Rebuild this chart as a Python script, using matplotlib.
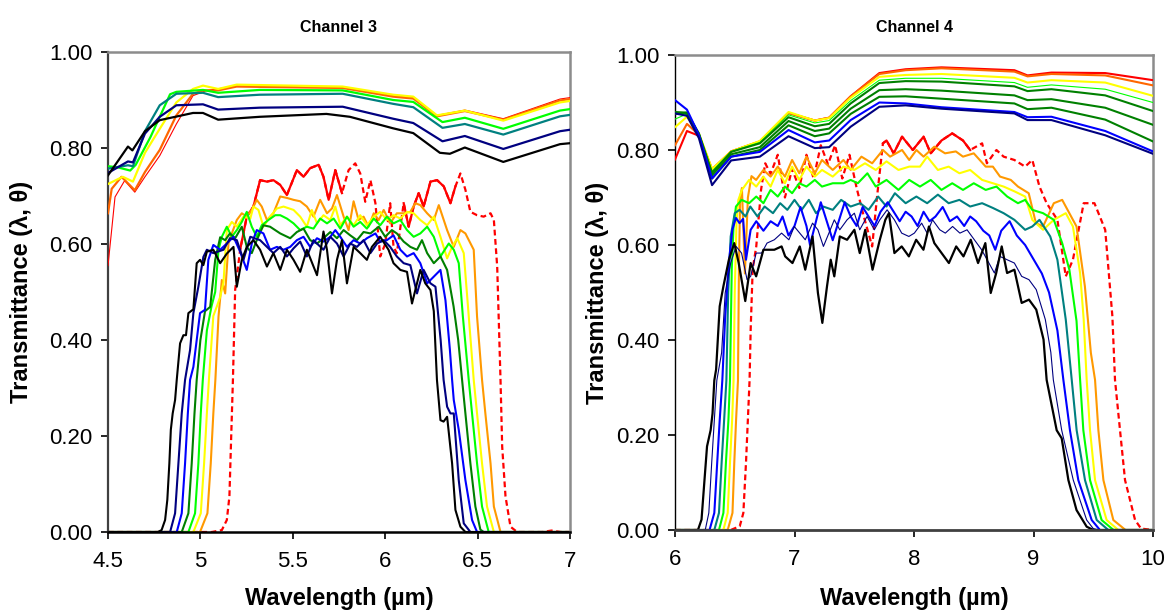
import numpy as np
import matplotlib
matplotlib.use("Agg")
import matplotlib.pyplot as plt

plt.rcParams["font.family"] = ["Liberation Sans", "DejaVu Sans"]

# ------------------------------------------------------------
# Channel 3 - upper curves (window transmittance), (um, T)
# ------------------------------------------------------------
ch3_top_red = [(4.5, 0.555), (4.52, 0.63), (4.538, 0.698), (4.59, 0.732), (4.645, 0.708),
               (4.7, 0.74), (4.78, 0.784), (4.87, 0.85), (4.96, 0.909), (5.034, 0.92),
               (5.196, 0.929), (5.77, 0.927), (6.043, 0.909), (6.152, 0.905), (6.28, 0.868),
               (6.431, 0.879), (6.639, 0.861), (6.946, 0.902), (7.0, 0.905)]
ch3_top_orange = [(4.5, 0.664), (4.52, 0.715), (4.573, 0.74), (4.645, 0.712), (4.7, 0.75),
                  (4.78, 0.796), (4.87, 0.868), (4.96, 0.913), (5.014, 0.92), (5.096, 0.92),
                  (5.196, 0.928), (5.77, 0.925), (6.043, 0.907), (6.152, 0.903), (6.28, 0.866),
                  (6.431, 0.877), (6.639, 0.859), (6.946, 0.899), (7.0, 0.902)]
ch3_top_yellow = [(4.5, 0.725), (4.58, 0.74), (4.635, 0.73), (4.7, 0.79), (4.78, 0.84),
                  (4.87, 0.895), (4.96, 0.923), (5.014, 0.93), (5.096, 0.923), (5.196, 0.932),
                  (5.77, 0.928), (6.043, 0.911), (6.152, 0.907), (6.28, 0.868), (6.431, 0.878),
                  (6.639, 0.857), (6.946, 0.895), (7.0, 0.898)]
ch3_top_lime = [(4.5, 0.762), (4.55, 0.76), (4.62, 0.753), (4.65, 0.765), (4.73, 0.823),
                (4.836, 0.912), (4.87, 0.917), (5.014, 0.921), (5.096, 0.915), (5.321, 0.921),
                (5.77, 0.92), (6.043, 0.9), (6.152, 0.896), (6.31, 0.854), (6.431, 0.863),
                (6.639, 0.84), (6.946, 0.878), (7.0, 0.881)]
ch3_top_teal = [(4.5, 0.757), (4.608, 0.764), (4.635, 0.762), (4.7, 0.835), (4.78, 0.889),
                (4.87, 0.913), (5.014, 0.915), (5.096, 0.906), (5.321, 0.911), (5.77, 0.913),
                (6.043, 0.892), (6.152, 0.885), (6.31, 0.842), (6.431, 0.85), (6.639, 0.828),
                (6.946, 0.866), (7.0, 0.869)]
ch3_top_navy = [(4.5, 0.748), (4.608, 0.772), (4.635, 0.77), (4.7, 0.83), (4.78, 0.865),
                (4.87, 0.889), (5.014, 0.891), (5.096, 0.88), (5.321, 0.884), (5.77, 0.886),
                (6.043, 0.861), (6.152, 0.852), (6.31, 0.814), (6.431, 0.825), (6.639, 0.798),
                (6.946, 0.835), (7.0, 0.838)]
ch3_top_black = [(4.5, 0.743), (4.608, 0.803), (4.632, 0.795), (4.7, 0.835), (4.78, 0.858),
                 (4.96, 0.873), (5.014, 0.873), (5.096, 0.859), (5.321, 0.865), (5.682, 0.871),
                 (5.809, 0.865), (6.043, 0.841), (6.152, 0.831), (6.296, 0.79), (6.35, 0.788),
                 (6.431, 0.801), (6.639, 0.771), (6.946, 0.808), (7.0, 0.81)]

# ------------------------------------------------------------
# Channel 3 - filter curves at increasing angle
# ------------------------------------------------------------
ch3_red = [(4.5, 0), (5.062, 0), (5.116, 0.004), (5.143, 0.025), (5.157, 0.074), (5.165, 0.178),
           (5.176, 0.317), (5.188, 0.504), (5.215, 0.588), (5.251, 0.657), (5.287, 0.678),
           (5.323, 0.733), (5.36, 0.73), (5.395, 0.733), (5.432, 0.723), (5.468, 0.702),
           (5.522, 0.754), (5.558, 0.74), (5.594, 0.758), (5.64, 0.765), (5.666, 0.74),
           (5.694, 0.692), (5.73, 0.754), (5.766, 0.706), (5.802, 0.754), (5.838, 0.768),
           (5.865, 0.747), (5.892, 0.688), (5.92, 0.733), (5.947, 0.685), (5.973, 0.574),
           (6.0, 0.60), (6.027, 0.685), (6.045, 0.594), (6.063, 0.581), (6.1, 0.685),
           (6.127, 0.636), (6.154, 0.678), (6.181, 0.706), (6.208, 0.678), (6.245, 0.73),
           (6.281, 0.733), (6.317, 0.72), (6.353, 0.685), (6.38, 0.72), (6.407, 0.747),
           (6.434, 0.713), (6.461, 0.667), (6.497, 0.66), (6.533, 0.657), (6.57, 0.664),
           (6.588, 0.65), (6.606, 0.553), (6.624, 0.317), (6.633, 0.178), (6.651, 0.074),
           (6.678, 0.011), (6.714, 0), (6.85, 0), (6.9, 0.003), (6.95, 0), (7.0, 0)]
ch3_orange = [(4.5, 0), (4.998, 0), (5.038, 0.039), (5.056, 0.143), (5.07, 0.247), (5.081, 0.317),
              (5.098, 0.449), (5.116, 0.525), (5.134, 0.497), (5.152, 0.601), (5.17, 0.622),
              (5.197, 0.65), (5.224, 0.664), (5.251, 0.657), (5.278, 0.671), (5.305, 0.692),
              (5.332, 0.678), (5.36, 0.65), (5.395, 0.664), (5.432, 0.699), (5.468, 0.696),
              (5.504, 0.692), (5.54, 0.689), (5.576, 0.678), (5.612, 0.657), (5.648, 0.692),
              (5.685, 0.664), (5.712, 0.674), (5.739, 0.702), (5.775, 0.657), (5.802, 0.629),
              (5.829, 0.689), (5.856, 0.65), (5.883, 0.657), (5.91, 0.636), (5.938, 0.664),
              (5.965, 0.65), (5.992, 0.671), (6.027, 0.643), (6.063, 0.664), (6.1, 0.664),
              (6.136, 0.667), (6.163, 0.685), (6.19, 0.681), (6.227, 0.664), (6.263, 0.65),
              (6.29, 0.681), (6.335, 0.629), (6.371, 0.594), (6.407, 0.629), (6.434, 0.622),
              (6.479, 0.588), (6.497, 0.449), (6.524, 0.317), (6.542, 0.247), (6.57, 0.143),
              (6.588, 0.053), (6.624, 0), (7.0, 0)]
ch3_yellow = [(4.5, 0), (4.962, 0), (5.002, 0.039), (5.02, 0.143), (5.035, 0.247), (5.046, 0.317),
              (5.07, 0.45), (5.089, 0.47), (5.107, 0.49), (5.125, 0.52), (5.143, 0.629),
              (5.17, 0.646), (5.197, 0.636), (5.233, 0.657), (5.27, 0.653), (5.287, 0.678),
              (5.314, 0.671), (5.341, 0.636), (5.377, 0.657), (5.414, 0.674), (5.45, 0.678),
              (5.504, 0.671), (5.54, 0.657), (5.576, 0.636), (5.603, 0.671), (5.631, 0.643),
              (5.666, 0.66), (5.703, 0.65), (5.73, 0.678), (5.757, 0.639), (5.793, 0.657),
              (5.829, 0.639), (5.865, 0.66), (5.901, 0.639), (5.938, 0.657), (5.973, 0.667),
              (6.009, 0.65), (6.045, 0.66), (6.082, 0.653), (6.118, 0.667), (6.154, 0.664),
              (6.19, 0.65), (6.227, 0.639), (6.263, 0.657), (6.299, 0.615), (6.335, 0.57),
              (6.362, 0.594), (6.39, 0.612), (6.425, 0.581), (6.452, 0.45), (6.479, 0.317),
              (6.497, 0.247), (6.524, 0.143), (6.551, 0.053), (6.588, 0), (7.0, 0)]
ch3_lime = [(4.5, 0), (4.935, 0), (4.971, 0.039), (4.989, 0.143), (5.002, 0.247), (5.013, 0.317),
            (5.035, 0.42), (5.06, 0.47), (5.08, 0.50), (5.098, 0.588), (5.116, 0.615),
            (5.143, 0.636), (5.17, 0.615), (5.197, 0.629), (5.224, 0.646), (5.251, 0.667),
            (5.278, 0.636), (5.305, 0.615), (5.332, 0.639), (5.368, 0.65), (5.405, 0.66),
            (5.432, 0.66), (5.468, 0.653), (5.504, 0.643), (5.54, 0.629), (5.576, 0.636),
            (5.612, 0.632), (5.648, 0.653), (5.685, 0.643), (5.721, 0.653), (5.757, 0.632),
            (5.793, 0.657), (5.829, 0.636), (5.865, 0.646), (5.901, 0.632), (5.938, 0.653),
            (5.973, 0.639), (6.009, 0.657), (6.045, 0.643), (6.082, 0.65), (6.118, 0.629),
            (6.154, 0.615), (6.19, 0.622), (6.227, 0.636), (6.263, 0.615), (6.299, 0.574),
            (6.344, 0.601), (6.371, 0.588), (6.398, 0.56), (6.42, 0.45), (6.452, 0.317),
            (6.47, 0.247), (6.497, 0.143), (6.524, 0.053), (6.56, 0), (7.0, 0)]
ch3_green = [(4.5, 0), (4.899, 0), (4.935, 0.039), (4.953, 0.143), (4.968, 0.247), (4.98, 0.317),
             (5.0, 0.40), (5.025, 0.46), (5.053, 0.469), (5.08, 0.567), (5.107, 0.614),
             (5.134, 0.608), (5.16, 0.622), (5.188, 0.612), (5.224, 0.636), (5.251, 0.594),
             (5.278, 0.581), (5.305, 0.608), (5.341, 0.639), (5.377, 0.636), (5.432, 0.622),
             (5.486, 0.612), (5.522, 0.625), (5.558, 0.632), (5.594, 0.608), (5.631, 0.601),
             (5.666, 0.612), (5.703, 0.625), (5.739, 0.612), (5.775, 0.629), (5.811, 0.618),
             (5.847, 0.608), (5.883, 0.625), (5.92, 0.622), (5.965, 0.636), (6.0, 0.615),
             (6.036, 0.629), (6.063, 0.622), (6.1, 0.605), (6.136, 0.594), (6.172, 0.588),
             (6.199, 0.608), (6.227, 0.581), (6.263, 0.56), (6.299, 0.574), (6.335, 0.546),
             (6.37, 0.47), (6.395, 0.40), (6.416, 0.317), (6.434, 0.247), (6.461, 0.143),
             (6.488, 0.053), (6.515, 0.005), (6.533, 0), (7.0, 0)]
ch3_blue = [(4.5, 0), (4.872, 0), (4.899, 0.039), (4.917, 0.143), (4.932, 0.247), (4.944, 0.317),
            (4.962, 0.344), (4.998, 0.456), (5.025, 0.463), (5.043, 0.567), (5.07, 0.598),
            (5.107, 0.588), (5.143, 0.601), (5.179, 0.615), (5.215, 0.584), (5.251, 0.546),
            (5.278, 0.601), (5.305, 0.629), (5.341, 0.622), (5.377, 0.588), (5.414, 0.594),
            (5.45, 0.588), (5.486, 0.594), (5.522, 0.608), (5.558, 0.615), (5.594, 0.594),
            (5.631, 0.612), (5.666, 0.605), (5.703, 0.615), (5.73, 0.629), (5.757, 0.615),
            (5.793, 0.594), (5.829, 0.608), (5.865, 0.601), (5.901, 0.612), (5.947, 0.622),
            (5.973, 0.605), (6.009, 0.608), (6.045, 0.618), (6.082, 0.588), (6.118, 0.574),
            (6.154, 0.581), (6.19, 0.56), (6.227, 0.518), (6.263, 0.532), (6.299, 0.546),
            (6.326, 0.483), (6.35, 0.38), (6.362, 0.317), (6.371, 0.275), (6.398, 0.213),
            (6.434, 0.108), (6.47, 0.025), (6.497, 0), (7.0, 0)]
ch3_navy = [(4.5, 0), (4.836, 0), (4.863, 0.039), (4.881, 0.143), (4.899, 0.247), (4.917, 0.317),
            (4.944, 0.379), (4.962, 0.456), (4.989, 0.511), (5.016, 0.573), (5.035, 0.588),
            (5.07, 0.581), (5.125, 0.588), (5.16, 0.612), (5.197, 0.608), (5.233, 0.567),
            (5.27, 0.615), (5.323, 0.608), (5.36, 0.594), (5.395, 0.581), (5.432, 0.594),
            (5.468, 0.574), (5.504, 0.591), (5.54, 0.605), (5.576, 0.574), (5.612, 0.608),
            (5.666, 0.588), (5.703, 0.615), (5.739, 0.601), (5.775, 0.574), (5.811, 0.601),
            (5.847, 0.594), (5.883, 0.608), (5.92, 0.581), (5.956, 0.601), (5.992, 0.608),
            (6.027, 0.594), (6.063, 0.574), (6.1, 0.56), (6.136, 0.556), (6.172, 0.497),
            (6.208, 0.546), (6.245, 0.518), (6.272, 0.511), (6.30, 0.40), (6.316, 0.317),
            (6.335, 0.261), (6.353, 0.247), (6.371, 0.247), (6.398, 0.108), (6.425, 0.018),
            (6.461, 0), (7.0, 0)]
ch3_black = [(4.5, 0), (4.77, 0), (4.79, 0.004), (4.809, 0.025), (4.821, 0.067), (4.832, 0.143),
             (4.84, 0.213), (4.85, 0.247), (4.863, 0.275), (4.872, 0.317), (4.89, 0.393),
             (4.908, 0.41), (4.922, 0.41), (4.935, 0.456), (4.962, 0.464), (4.98, 0.56),
             (4.998, 0.567), (5.016, 0.556), (5.035, 0.584), (5.07, 0.588), (5.107, 0.56),
             (5.143, 0.58), (5.179, 0.594), (5.197, 0.511), (5.224, 0.567), (5.251, 0.594),
             (5.287, 0.608), (5.323, 0.588), (5.36, 0.553), (5.395, 0.581), (5.432, 0.546),
             (5.468, 0.588), (5.504, 0.567), (5.54, 0.542), (5.576, 0.588), (5.631, 0.535),
             (5.666, 0.626), (5.685, 0.588), (5.712, 0.497), (5.739, 0.567), (5.766, 0.608),
             (5.793, 0.518), (5.829, 0.594), (5.865, 0.581), (5.901, 0.567), (5.928, 0.594),
             (5.973, 0.615), (6.018, 0.588), (6.045, 0.56), (6.082, 0.546), (6.118, 0.542),
             (6.145, 0.476), (6.172, 0.518), (6.19, 0.546), (6.217, 0.518), (6.245, 0.504),
             (6.263, 0.46), (6.28, 0.317), (6.299, 0.233), (6.316, 0.23), (6.335, 0.24),
             (6.362, 0.143), (6.38, 0.046), (6.407, 0.011), (6.434, 0), (7.0, 0)]

# ------------------------------------------------------------
# Channel 4 - upper curves, common wavelength grid
# ------------------------------------------------------------
ch4_top_x = [6.0, 6.1, 6.2, 6.31, 6.47, 6.71, 6.95, 7.17, 7.29, 7.47, 7.71, 7.93, 8.23,
             8.84, 8.95, 9.15, 9.6, 10.0]
ch4_top_red = [0.78, 0.84, 0.83, 0.758, 0.797, 0.818, 0.878, 0.862, 0.868, 0.913, 0.962,
               0.970, 0.974, 0.968, 0.957, 0.963, 0.962, 0.947]
ch4_top_orange = [0.81, 0.855, 0.832, 0.760, 0.797, 0.818, 0.878, 0.862, 0.868, 0.913, 0.960,
                  0.968, 0.972, 0.965, 0.955, 0.960, 0.957, 0.936]
ch4_top_yellow = [0.848, 0.870, 0.835, 0.760, 0.797, 0.819, 0.880, 0.862, 0.867, 0.910, 0.954,
                  0.958, 0.960, 0.952, 0.942, 0.947, 0.942, 0.914]
ch4_top_lime = [0.865, 0.876, 0.835, 0.755, 0.797, 0.816, 0.874, 0.857, 0.862, 0.904, 0.947,
                0.951, 0.951, 0.942, 0.932, 0.937, 0.928, 0.900]
ch4_top_green1 = [0.876, 0.878, 0.835, 0.752, 0.796, 0.814, 0.869, 0.850, 0.855, 0.898, 0.941,
                  0.945, 0.944, 0.934, 0.924, 0.928, 0.915, 0.882]
ch4_top_green2 = [0.879, 0.879, 0.833, 0.747, 0.791, 0.806, 0.861, 0.840, 0.845, 0.887, 0.926,
                  0.928, 0.925, 0.915, 0.905, 0.907, 0.889, 0.853]
ch4_top_green3 = [0.880, 0.877, 0.830, 0.740, 0.786, 0.800, 0.852, 0.829, 0.835, 0.876, 0.912,
                  0.913, 0.908, 0.898, 0.886, 0.889, 0.864, 0.818]
ch4_top_blue = [0.905, 0.885, 0.832, 0.740, 0.786, 0.796, 0.842, 0.816, 0.820, 0.863, 0.900,
                0.898, 0.890, 0.880, 0.869, 0.870, 0.840, 0.797]
ch4_top_navy = [0.877, 0.872, 0.825, 0.726, 0.778, 0.786, 0.829, 0.804, 0.806, 0.849, 0.891,
                0.894, 0.887, 0.877, 0.863, 0.863, 0.831, 0.792]

# ------------------------------------------------------------
# Channel 4 - filter curves at increasing angle
# ------------------------------------------------------------
ch4_red = [(6.0, 0), (6.466, 0), (6.542, 0.008), (6.572, 0.036), (6.594, 0.141), (6.612, 0.245),
           (6.624, 0.315), (6.633, 0.42), (6.65, 0.549), (6.68, 0.597), (6.72, 0.716),
           (6.755, 0.772), (6.8, 0.75), (6.86, 0.79), (6.92, 0.70), (6.98, 0.76), (7.04, 0.72),
           (7.1, 0.79), (7.16, 0.74), (7.22, 0.81), (7.28, 0.77), (7.34, 0.81), (7.4, 0.74),
           (7.46, 0.79), (7.52, 0.72), (7.58, 0.66), (7.65, 0.597), (7.69, 0.70), (7.74, 0.814),
           (7.77, 0.82), (7.83, 0.793), (7.9, 0.828), (7.99, 0.80), (8.08, 0.828), (8.14, 0.793),
           (8.23, 0.82), (8.32, 0.835), (8.41, 0.82), (8.47, 0.80), (8.57, 0.814), (8.61, 0.772),
           (8.69, 0.80), (8.75, 0.786), (8.84, 0.779), (8.93, 0.765), (8.99, 0.779),
           (9.05, 0.723), (9.11, 0.688), (9.2, 0.653), (9.27, 0.534), (9.33, 0.569),
           (9.42, 0.688), (9.51, 0.688), (9.6, 0.632), (9.66, 0.45), (9.682, 0.316),
           (9.724, 0.21), (9.766, 0.105), (9.85, 0.021), (9.9, 0.003), (10.0, 0)]
ch4_orange = [(6.0, 0), (6.441, 0), (6.481, 0.036), (6.496, 0.141), (6.511, 0.231), (6.527, 0.315),
              (6.535, 0.55), (6.545, 0.70), (6.56, 0.72), (6.585, 0.54), (6.61, 0.70),
              (6.64, 0.745), (6.679, 0.737), (6.74, 0.758), (6.8, 0.744), (6.86, 0.765),
              (6.92, 0.744), (6.98, 0.779), (7.04, 0.751), (7.1, 0.786), (7.17, 0.751),
              (7.23, 0.779), (7.32, 0.758), (7.41, 0.779), (7.47, 0.758), (7.56, 0.786),
              (7.65, 0.772), (7.74, 0.80), (7.8, 0.786), (7.9, 0.80), (7.96, 0.779), (8.02, 0.80),
              (8.08, 0.786), (8.17, 0.807), (8.26, 0.793), (8.35, 0.797), (8.41, 0.786),
              (8.5, 0.793), (8.6, 0.765), (8.66, 0.765), (8.72, 0.744), (8.81, 0.737),
              (8.87, 0.723), (8.96, 0.709), (9.02, 0.646), (9.08, 0.639), (9.17, 0.688),
              (9.24, 0.695), (9.3, 0.667), (9.36, 0.639), (9.43, 0.513), (9.48, 0.373),
              (9.515, 0.316), (9.543, 0.21), (9.585, 0.105), (9.668, 0.021), (9.77, 0), (10.0, 0)]
ch4_yellow = [(6.0, 0), (6.405, 0), (6.441, 0.036), (6.46, 0.141), (6.478, 0.231), (6.49, 0.315),
              (6.5, 0.5), (6.515, 0.65), (6.53, 0.695), (6.56, 0.716), (6.62, 0.737),
              (6.68, 0.723), (6.74, 0.744), (6.8, 0.723), (6.86, 0.758), (6.92, 0.73),
              (6.98, 0.765), (7.04, 0.737), (7.1, 0.765), (7.17, 0.744), (7.23, 0.758),
              (7.32, 0.744), (7.41, 0.765), (7.5, 0.758), (7.59, 0.772), (7.68, 0.758),
              (7.77, 0.776), (7.87, 0.758), (7.96, 0.765), (8.05, 0.765), (8.11, 0.786),
              (8.2, 0.758), (8.29, 0.765), (8.38, 0.751), (8.47, 0.758), (8.57, 0.737),
              (8.66, 0.73), (8.75, 0.723), (8.84, 0.713), (8.93, 0.702), (8.99, 0.653),
              (9.08, 0.632), (9.17, 0.653), (9.27, 0.667), (9.33, 0.639), (9.39, 0.541),
              (9.42, 0.443), (9.445, 0.316), (9.473, 0.21), (9.515, 0.105), (9.612, 0.021),
              (9.71, 0), (10.0, 0)]
ch4_lime = [(6.0, 0), (6.368, 0), (6.405, 0.036), (6.426, 0.141), (6.447, 0.231), (6.46, 0.315),
            (6.475, 0.55), (6.49, 0.64), (6.51, 0.681), (6.557, 0.695), (6.62, 0.688),
            (6.68, 0.702), (6.74, 0.688), (6.8, 0.716), (6.86, 0.702), (6.92, 0.723),
            (6.98, 0.709), (7.04, 0.73), (7.1, 0.723), (7.17, 0.737), (7.23, 0.723), (7.32, 0.73),
            (7.41, 0.73), (7.47, 0.737), (7.53, 0.73), (7.61, 0.751), (7.68, 0.723),
            (7.77, 0.737), (7.87, 0.716), (7.96, 0.737), (8.05, 0.723), (8.14, 0.737),
            (8.23, 0.716), (8.32, 0.73), (8.41, 0.716), (8.5, 0.73), (8.6, 0.716), (8.69, 0.723),
            (8.78, 0.702), (8.87, 0.688), (8.93, 0.695), (8.99, 0.674), (9.08, 0.667),
            (9.17, 0.653), (9.24, 0.604), (9.3, 0.548), (9.36, 0.44), (9.39, 0.316),
            (9.417, 0.21), (9.473, 0.105), (9.57, 0.021), (9.67, 0), (10.0, 0)]
ch4_teal = [(6.0, 0), (6.329, 0), (6.368, 0.036), (6.39, 0.141), (6.411, 0.231), (6.43, 0.315),
            (6.445, 0.50), (6.466, 0.618), (6.5, 0.667), (6.54, 0.674), (6.59, 0.66),
            (6.63, 0.681), (6.69, 0.66), (6.75, 0.681), (6.82, 0.667), (6.88, 0.688),
            (6.94, 0.674), (7.0, 0.695), (7.06, 0.674), (7.12, 0.695), (7.18, 0.667),
            (7.24, 0.681), (7.32, 0.674), (7.39, 0.695), (7.47, 0.681), (7.55, 0.688),
            (7.62, 0.674), (7.7, 0.702), (7.77, 0.681), (7.84, 0.709), (7.93, 0.688),
            (8.02, 0.702), (8.11, 0.688), (8.2, 0.706), (8.29, 0.688), (8.38, 0.695),
            (8.47, 0.681), (8.57, 0.688), (8.66, 0.678), (8.75, 0.667), (8.84, 0.653),
            (8.93, 0.632), (8.99, 0.639), (9.05, 0.653), (9.14, 0.618), (9.2, 0.569),
            (9.27, 0.443), (9.32, 0.316), (9.361, 0.21), (9.431, 0.105), (9.529, 0.021),
            (9.626, 0), (10.0, 0)]
ch4_blue = [(6.0, 0), (6.289, 0), (6.329, 0.036), (6.353, 0.141), (6.374, 0.231), (6.396, 0.315),
            (6.42, 0.45), (6.45, 0.562), (6.48, 0.632), (6.51, 0.657), (6.54, 0.646),
            (6.57, 0.655), (6.594, 0.569), (6.633, 0.632), (6.68, 0.65), (6.74, 0.63),
            (6.8, 0.65), (6.86, 0.64), (6.9, 0.66), (6.95, 0.62), (7.0, 0.64), (7.05, 0.68),
            (7.1, 0.64), (7.13, 0.60), (7.17, 0.64), (7.22, 0.69), (7.27, 0.65), (7.32, 0.61),
            (7.37, 0.65), (7.42, 0.69), (7.47, 0.66), (7.52, 0.64), (7.57, 0.68), (7.62, 0.66),
            (7.67, 0.64), (7.72, 0.67), (7.78, 0.69), (7.83, 0.67), (7.88, 0.65), (7.93, 0.67),
            (7.98, 0.66), (8.03, 0.64), (8.08, 0.67), (8.13, 0.65), (8.18, 0.66), (8.24, 0.68),
            (8.3, 0.65), (8.36, 0.66), (8.42, 0.64), (8.47, 0.66), (8.52, 0.65), (8.58, 0.63),
            (8.63, 0.62), (8.68, 0.59), (8.73, 0.63), (8.8, 0.65), (8.86, 0.62), (8.93, 0.60),
            (9.0, 0.57), (9.07, 0.54), (9.13, 0.50), (9.2, 0.42), (9.25, 0.316), (9.305, 0.21),
            (9.375, 0.105), (9.487, 0.021), (9.556, 0), (10.0, 0)]
ch4_navy = [(6.0, 0), (6.253, 0), (6.283, 0.036), (6.307, 0.141), (6.329, 0.231), (6.35, 0.315),
            (6.39, 0.373), (6.42, 0.499), (6.466, 0.562), (6.511, 0.597), (6.557, 0.583),
            (6.603, 0.527), (6.633, 0.534), (6.679, 0.583), (6.725, 0.583), (6.77, 0.604),
            (6.831, 0.611), (6.892, 0.625), (6.953, 0.611), (6.998, 0.639), (7.044, 0.625),
            (7.09, 0.611), (7.151, 0.646), (7.196, 0.632), (7.242, 0.597), (7.288, 0.625),
            (7.333, 0.653), (7.379, 0.632), (7.44, 0.653), (7.501, 0.667), (7.546, 0.632),
            (7.607, 0.66), (7.668, 0.632), (7.714, 0.653), (7.775, 0.674), (7.836, 0.653),
            (7.897, 0.625), (7.957, 0.618), (8.003, 0.625), (8.064, 0.646), (8.11, 0.625),
            (8.155, 0.653), (8.216, 0.632), (8.262, 0.625), (8.323, 0.639), (8.384, 0.625),
            (8.444, 0.632), (8.505, 0.611), (8.566, 0.59), (8.627, 0.562), (8.673, 0.541),
            (8.718, 0.576), (8.779, 0.569), (8.84, 0.562), (8.901, 0.534), (8.962, 0.527),
            (9.023, 0.506), (9.099, 0.443), (9.145, 0.374), (9.166, 0.316), (9.236, 0.21),
            (9.333, 0.105), (9.445, 0.021), (9.5, 0.003), (9.55, 0), (10.0, 0)]
ch4_black = [(6.0, 0), (6.192, 0), (6.222, 0.022), (6.247, 0.106), (6.268, 0.176), (6.298, 0.21),
             (6.314, 0.245), (6.329, 0.315), (6.344, 0.338), (6.374, 0.471), (6.405, 0.513),
             (6.451, 0.569), (6.496, 0.604), (6.533, 0.562), (6.588, 0.482), (6.633, 0.562),
             (6.679, 0.534), (6.74, 0.59), (6.831, 0.59), (6.892, 0.597), (6.922, 0.576),
             (6.983, 0.562), (7.044, 0.597), (7.09, 0.548), (7.151, 0.618), (7.196, 0.499),
             (7.233, 0.436), (7.272, 0.513), (7.303, 0.569), (7.333, 0.534), (7.379, 0.618),
             (7.44, 0.611), (7.501, 0.632), (7.546, 0.583), (7.592, 0.632), (7.653, 0.548),
             (7.714, 0.611), (7.76, 0.653), (7.79, 0.667), (7.836, 0.583), (7.897, 0.597),
             (7.957, 0.576), (8.018, 0.611), (8.079, 0.59), (8.125, 0.639), (8.17, 0.604),
             (8.231, 0.583), (8.292, 0.562), (8.353, 0.597), (8.414, 0.576), (8.475, 0.611),
             (8.536, 0.562), (8.597, 0.604), (8.642, 0.499), (8.688, 0.541), (8.734, 0.597),
             (8.779, 0.541), (8.84, 0.548), (8.901, 0.478), (8.962, 0.485), (9.023, 0.464),
             (9.084, 0.401), (9.11, 0.316), (9.194, 0.21), (9.236, 0.193), (9.292, 0.105),
             (9.36, 0.042), (9.445, 0.007), (9.5, 0), (10.0, 0)]

# tick labels
ch3_xticks = [4.5, 5, 5.5, 6, 6.5, 7]
ch3_xticklabels = ["4.5", "5", "5.5", "6", "6.5", "7"]
ch4_xticks = [6, 7, 8, 9, 10]
ch4_xticklabels = ["6", "7", "8", "9", "10"]
yticks = [0, 0.2, 0.4, 0.6, 0.8, 1.0]
yticklabels = ["0.00", "0.20", "0.40", "0.60", "0.80", "1.00"]

RED = "#FF0000"
ORANGERED = "#FF6600"
ORANGE = "#FF9900"
YELLOW = "#FFFF00"
LIME = "#00FF00"
GREEN = "#008000"
TEAL = "#008080"
BLUE = "#0000FF"
NAVY = "#000080"
BLACK = "#000000"

RED_DASH = (0, (2.6, 1.6))


def xy(pairs):
    arr = np.array(pairs, dtype=float)
    return arr[:, 0], arr[:, 1]


def draw_red(ax, pairs, solid_ranges):
    x, y = xy(pairs)
    ax.plot(x, y, color=RED, lw=1.6, linestyle=RED_DASH, zorder=2)
    for lo, hi in solid_ranges:
        m = (x >= lo) & (x <= hi)
        ax.plot(x[m], y[m], color=RED, lw=1.6, zorder=2.1)


def style_axes(ax, xlim, xticks, xticklabels, left_color, bottom_color, left_w, bottom_w):
    ax.set_xlim(*xlim)
    ax.set_ylim(0, 1.0)
    ax.set_xticks(xticks)
    ax.set_xticklabels(xticklabels)
    ax.set_yticks(yticks)
    ax.set_yticklabels(yticklabels)
    ax.tick_params(axis="both", direction="out", length=5, width=1.2,
                   labelsize=16, colors="#000000", pad=6)
    ax.tick_params(axis="x", pad=9)
    for side in ("top", "right"):
        ax.spines[side].set_color("#8C8C8C")
        ax.spines[side].set_linewidth(1.8)
    ax.spines["left"].set_color(left_color)
    ax.spines["left"].set_linewidth(left_w)
    ax.spines["bottom"].set_color(bottom_color)
    ax.spines["bottom"].set_linewidth(bottom_w)
    ax.set_ylabel("Transmittance (\u03bb, \u03b8)", fontsize=17, fontweight="bold")
    ax.set_xlabel("Wavelength (\u00b5m)", fontsize=17, fontweight="bold")


fig = plt.figure(figsize=(11.66, 6.14), dpi=100)
ax3 = fig.add_axes([108 / 1166, 1 - 532 / 614, 462 / 1166, 480 / 614])
ax4 = fig.add_axes([675 / 1166, 1 - 530 / 614, 478 / 1166, 475 / 614])

# ---------------- Channel 3 ----------------
for pairs, col, lw in [(ch3_top_red, RED, 0.8), (ch3_top_orange, ORANGERED, 1.6),
                       (ch3_top_yellow, YELLOW, 1.6), (ch3_top_lime, LIME, 1.6),
                       (ch3_top_teal, TEAL, 1.6), (ch3_top_navy, NAVY, 1.6),
                       (ch3_top_black, BLACK, 1.6)]:
    x, y = xy(pairs)
    ax3.plot(x, y, color=col, lw=lw, zorder=3)

draw_red(ax3, ch3_red, [(5.2, 5.78), (6.1, 6.38)])
for pairs, col in [(ch3_orange, ORANGE), (ch3_yellow, YELLOW), (ch3_lime, LIME),
                   (ch3_green, GREEN), (ch3_blue, BLUE), (ch3_navy, NAVY), (ch3_black, BLACK)]:
    x, y = xy(pairs)
    ax3.plot(x, y, color=col, lw=1.5, zorder=2.5)

style_axes(ax3, (4.5, 7.0), ch3_xticks, ch3_xticklabels, "#404040", "#000000", 1.6, 1.8)
ax3.yaxis.set_label_coords(-0.163, 0.5)
ax3.xaxis.set_label_coords(0.5, -0.115)
ax3.text(0.5, 1.052, "Channel 3", transform=ax3.transAxes, ha="center", va="center",
         fontsize=11.5, fontweight="bold")

# ---------------- Channel 4 ----------------
for key_y, col, lw in [(ch4_top_red, RED, 1.5), (ch4_top_orange, ORANGERED, 1.5),
                       (ch4_top_yellow, YELLOW, 1.5), (ch4_top_lime, LIME, 0.8),
                       (ch4_top_green1, GREEN, 1.5), (ch4_top_green2, GREEN, 1.5),
                       (ch4_top_green3, GREEN, 1.5), (ch4_top_blue, BLUE, 1.5),
                       (ch4_top_navy, NAVY, 1.5)]:
    ax4.plot(ch4_top_x, key_y, color=col, lw=lw, zorder=3)

draw_red(ax4, ch4_red, [(7.72, 8.56)])
for pairs, col, lw in [(ch4_orange, ORANGE, 1.5), (ch4_yellow, YELLOW, 1.5),
                       (ch4_lime, LIME, 1.5), (ch4_teal, TEAL, 1.5), (ch4_blue, BLUE, 1.5),
                       (ch4_navy, NAVY, 0.8), (ch4_black, BLACK, 1.6)]:
    x, y = xy(pairs)
    ax4.plot(x, y, color=col, lw=lw, zorder=2.5)

style_axes(ax4, (6.0, 10.0), ch4_xticks, ch4_xticklabels, "#000000", "#404040", 1.0, 2.0)
ax4.yaxis.set_label_coords(-0.138, 0.5)
ax4.xaxis.set_label_coords(0.5, -0.12)
ax4.text(0.5, 1.057, "Channel 4", transform=ax4.transAxes, ha="center", va="center",
         fontsize=11.5, fontweight="bold")

fig.savefig("out.png", dpi=100)
